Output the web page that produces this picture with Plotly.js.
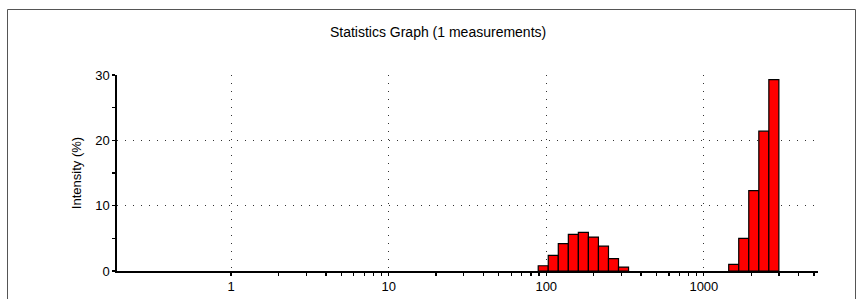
<!DOCTYPE html>
<html>
<head>
<meta charset="utf-8">
<script src="https://cdn.plot.ly/plotly-3.0.1.min.js"></script>
<style>
html,body{margin:0;padding:0;background:#fff;}
#chart{width:862px;height:299px;}
</style>
</head>
<body>
<div id="chart"></div>
<script>
// Size classes (d.nm, bar centres) and intensity (%)
var sizes = [95.7, 110.8, 128.3, 148.6, 172.0, 199.2, 230.7, 267.1, 309.3,
             1547, 1791, 2074, 2402, 2781];
var intensity = [0.8, 2.4, 4.2, 5.6, 5.9, 5.2, 3.8, 1.9, 0.6,
                 1.0, 5.0, 12.3, 21.4, 29.3];

var xMajorTicks = [1, 10, 100, 1000];
var xMajorText = ['1', '10', '100', '1000'];
var xMinorTicks = [2,3,4,5,6,7,8,9, 20,30,40,50,60,70,80,90,
                   200,300,400,500,600,700,800,900, 2000,3000,4000,5000];
var yMajorTicks = [0, 10, 20, 30];
var yMinorTicks = [5, 15, 25];

var titleText = 'Statistics Graph (1 measurements)';
var yTitleText = 'Intensity (%)';

var FONT = '"Liberation Sans", Arial, sans-serif';
var xr = [Math.log10(0.189), Math.log10(5300)];

// each size class covers a log-spaced bin around its centre
var ratio = Math.sqrt(sizes[1] / sizes[0]);
var widths = sizes.map(function (s) { return s * ratio - s / ratio; });
var offsets = sizes.map(function (s) { return s / ratio - s; });

var data = [{
  type: 'bar',
  x: sizes,
  y: intensity,
  width: widths,
  offset: offsets,
  marker: {color: '#ff0000', line: {color: '#000000', width: 1.2}},
  hoverinfo: 'skip'
}];

var layout = {
  width: 862, height: 299,
  margin: {l: 117, r: 44, t: 75, b: 28},
  paper_bgcolor: '#ffffff', plot_bgcolor: '#ffffff',
  font: {family: FONT, size: 13, color: '#000'},
  showlegend: false,
  bargap: 0,
  title: {text: titleText, font: {family: FONT, size: 14, color: '#000'},
          x: 0.458, xanchor: 'center', y: 1 - 32/299, yanchor: 'middle', yref: 'container', xref: 'paper'},
  xaxis: {
    type: 'log', range: xr, fixedrange: true,
    tickmode: 'array', tickvals: xMajorTicks, ticktext: xMajorText,
    ticks: 'outside', ticklen: 3, tickwidth: 1.3, tickcolor: '#000',
    showline: true, linecolor: '#000', linewidth: 1.8,
    showgrid: true, gridcolor: '#333', gridwidth: 1, griddash: '1px,7px',
    zeroline: false,
    tickfont: {family: FONT, size: 13, color: '#000'},
    minor: {tickmode: 'array', tickvals: xMinorTicks, ticks: 'outside', ticklen: 3,
            tickwidth: 1.3, tickcolor: '#000', showgrid: false}
  },
  xaxis2: {
    type: 'log', range: xr, overlaying: 'x', anchor: 'y', side: 'bottom', fixedrange: true,
    tickmode: 'array', tickvals: xMajorTicks.concat(xMinorTicks),
    ticks: 'inside', ticklen: 3, tickwidth: 1.3, tickcolor: '#000',
    showticklabels: false, showgrid: false, showline: false, zeroline: false
  },
  yaxis: {
    range: [0, 30], fixedrange: true,
    tickmode: 'array', tickvals: yMajorTicks,
    ticks: 'outside', ticklen: 3, tickwidth: 1.3, tickcolor: '#000',
    showline: true, linecolor: '#000', linewidth: 1.6,
    showgrid: true, gridcolor: '#333', gridwidth: 1, griddash: '1px,7px',
    zeroline: false,
    tickfont: {family: FONT, size: 13, color: '#000'},
    title: {text: yTitleText, font: {family: FONT, size: 13, color: '#000'}, standoff: 11},
    minor: {tickmode: 'array', tickvals: yMinorTicks, ticks: 'outside', ticklen: 3,
            tickwidth: 1.3, tickcolor: '#000', showgrid: false}
  },
  yaxis2: {
    range: [0, 30], overlaying: 'y', anchor: 'x', side: 'left', fixedrange: true,
    tickmode: 'array', tickvals: yMajorTicks.concat(yMinorTicks),
    ticks: 'inside', ticklen: 3, tickwidth: 1.3, tickcolor: '#000',
    showticklabels: false, showgrid: false, showline: false, zeroline: false
  },
  shapes: [{
    type: 'rect', xref: 'paper', yref: 'paper', layer: 'below',
    x0: (7.5 - 117) / 701, x1: (855.5 - 117) / 701,
    y0: -1, y1: (271 - 9.5) / 196,
    line: {color: '#555', width: 1}, fillcolor: 'rgba(0,0,0,0)'
  }]
};

Plotly.newPlot('chart', data, layout, {displayModeBar: false, staticPlot: true});
</script>
</body>
</html>
